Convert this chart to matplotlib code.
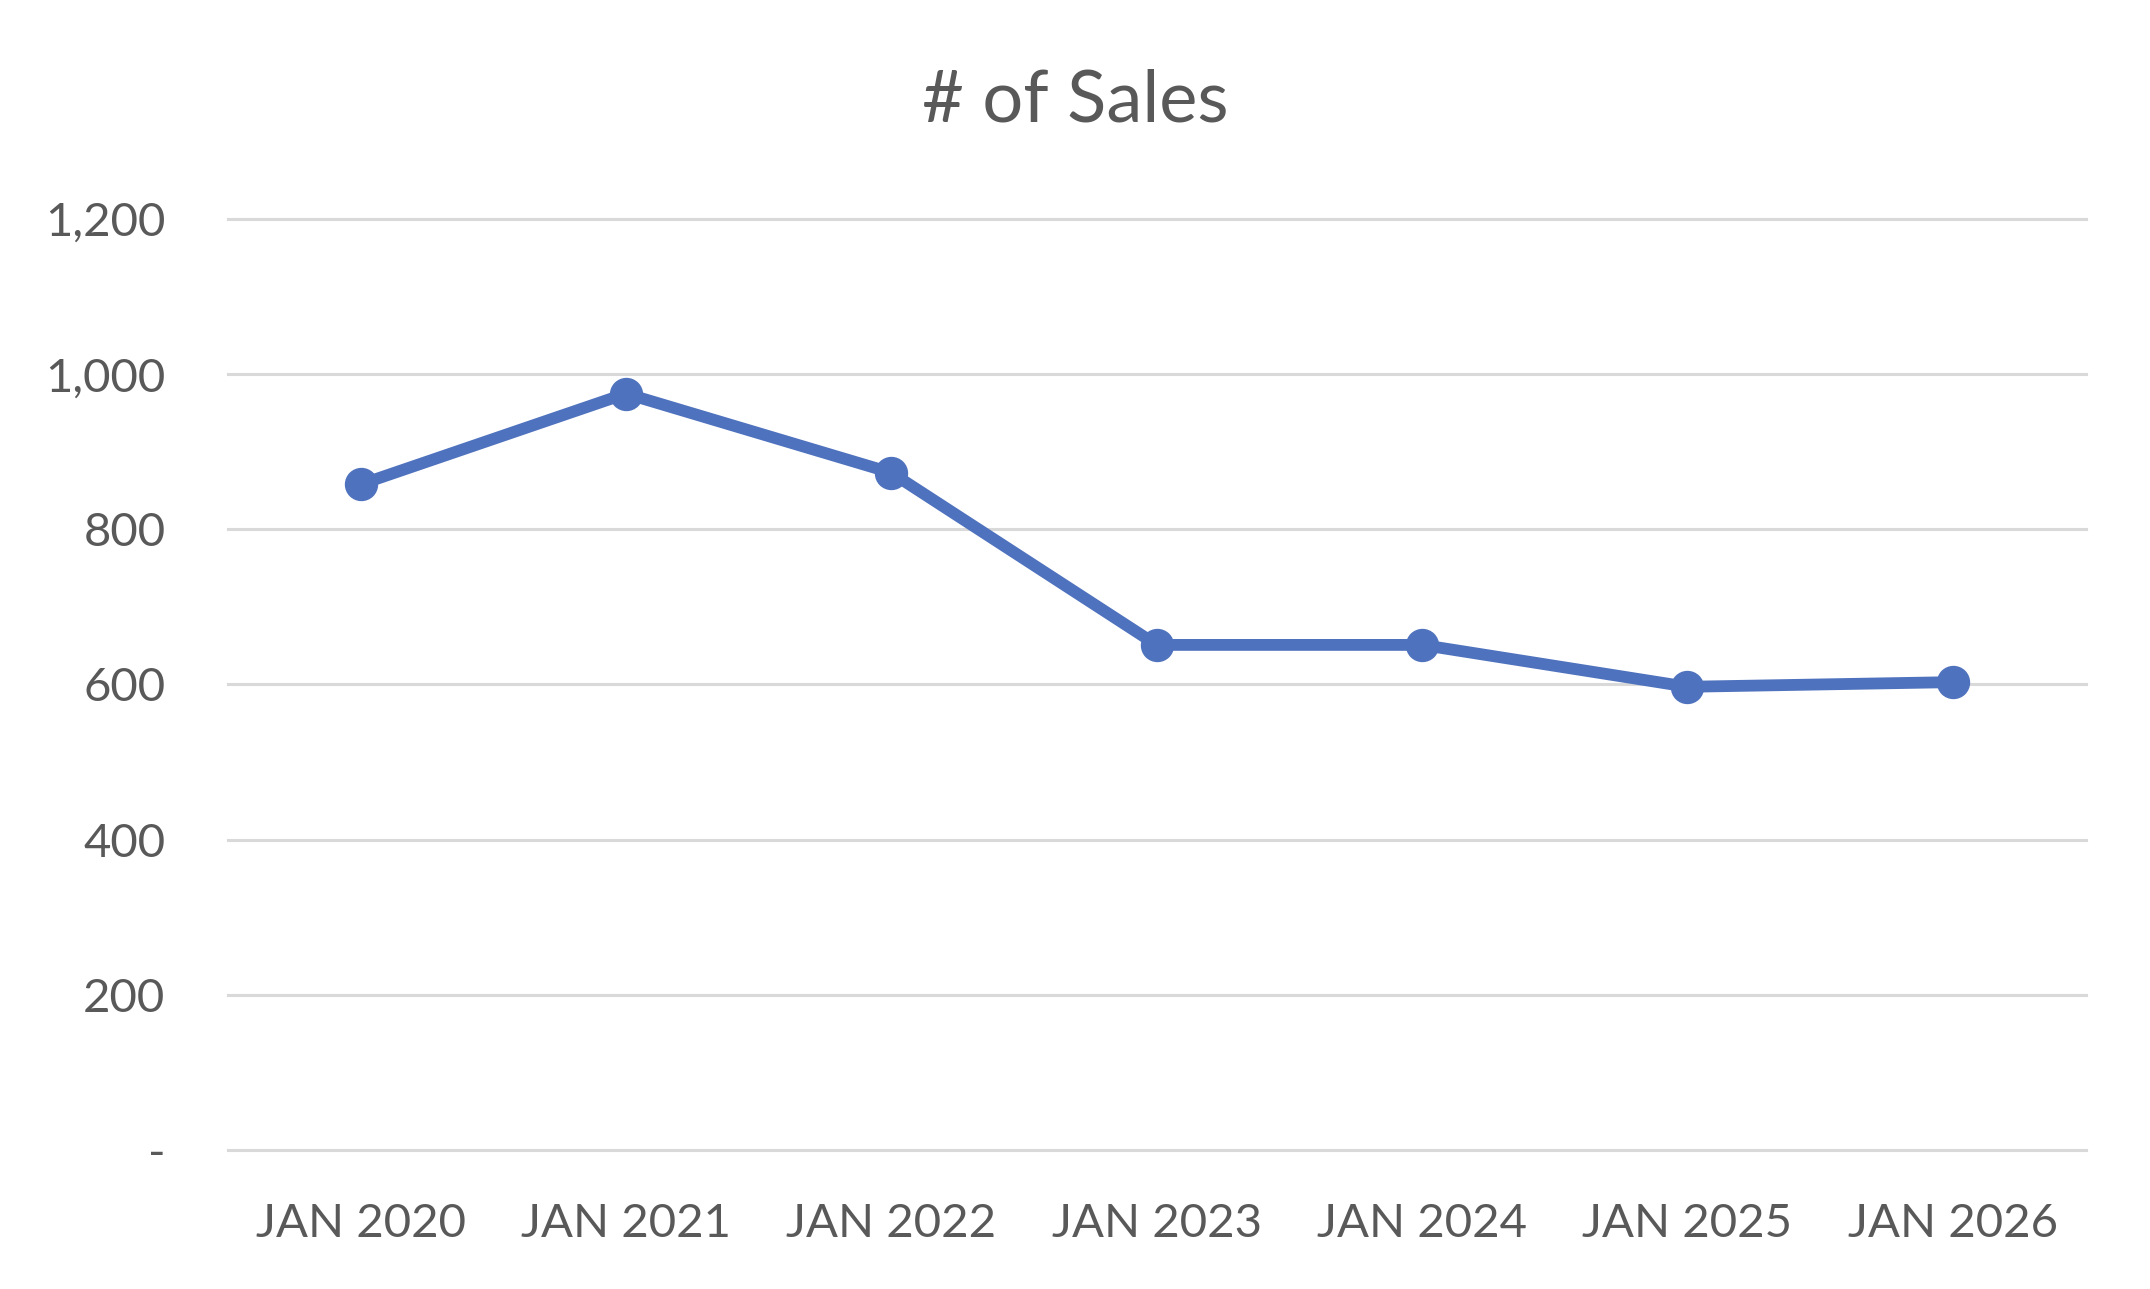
import matplotlib.pyplot as plt
from matplotlib.ticker import FuncFormatter

# Data
periods = ["JAN 2020", "JAN 2021", "JAN 2022", "JAN 2023", "JAN 2024", "JAN 2025", "JAN 2026"]
sales = [858, 975, 873, 651, 651, 597, 603]
y_ticks = [0, 200, 400, 600, 800, 1000, 1200]

TEXT = "#595959"
BLUE = "#4F72BE"

plt.rcParams['font.family'] = ['Lato', 'DejaVu Sans']

fig = plt.figure(figsize=(21.5, 12.89), dpi=100)
ax = fig.add_axes([0.106, 0.108, 0.864, 0.722])

x = list(range(len(periods)))
ax.plot(x, sales, color=BLUE, linewidth=8.5, marker='o', markersize=23,
        solid_capstyle='round', zorder=3)

ax.set_xlim(-0.5, len(periods) - 0.5)
ax.set_ylim(0, 1200)
ax.set_yticks(y_ticks)
ax.yaxis.set_major_formatter(FuncFormatter(lambda v, p: "-" if v == 0 else f"{int(v):,}"))
ax.set_xticks(x)
ax.set_xticklabels(periods)

ax.grid(axis='y', color='#D9D9D9', linewidth=2.2)
for gl in ax.get_ygridlines():
    gl.set_clip_on(False)
ax.set_axisbelow(True)
for s in ax.spines.values():
    s.set_visible(False)
ax.tick_params(axis='both', length=0, labelsize=34, colors=TEXT)
ax.tick_params(axis='y', pad=45)
ax.tick_params(axis='x', pad=38)

fig.suptitle("# of Sales", y=0.947, fontsize=52, color=TEXT)

fig.savefig("out.png", dpi=100)
